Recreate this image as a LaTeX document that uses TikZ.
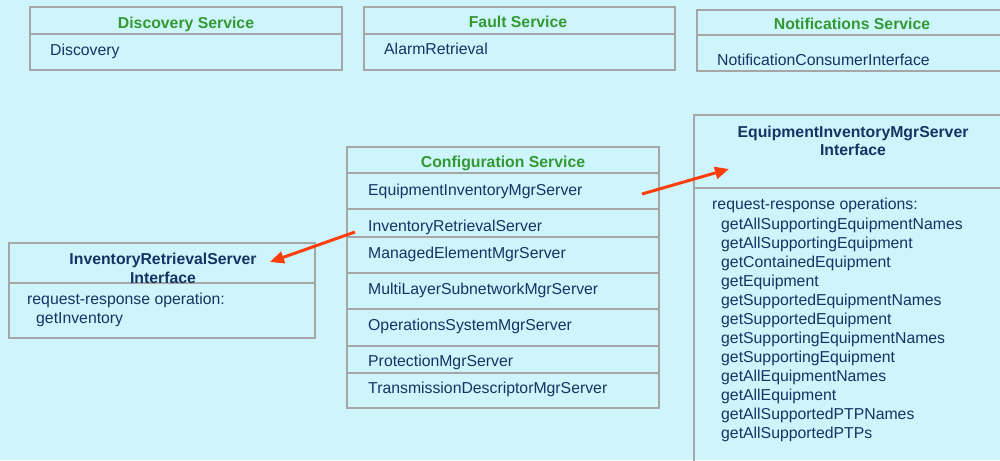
\documentclass[tikz,border=0pt]{standalone}
\usepackage{fontspec}
\setmainfont{Liberation Sans}
\usetikzlibrary{arrows.meta}

\definecolor{bgcyan}{RGB}{206,245,252}
\definecolor{boxgray}{RGB}{166,166,166}
\definecolor{titlegreen}{RGB}{51,153,51}
\definecolor{navy}{RGB}{20,52,100}
\definecolor{arrowred}{RGB}{255,62,12}

\begin{document}
\begin{tikzpicture}[x=1pt, y=-1pt,
    box/.style={draw=boxgray, line width=1.5pt},
    title/.style={font=\fontsize{15.8}{18}\selectfont\bfseries, text=titlegreen, inner sep=0pt, anchor=base},
    head/.style={font=\fontsize{15.8}{18}\selectfont\bfseries, text=navy, inner sep=0pt, anchor=base},
    item/.style={font=\fontsize{15.8}{19}\selectfont, text=navy, inner sep=0pt, anchor=base west},
    flow/.style={-{Triangle[length=14pt,width=12pt]}, line width=3pt, arrowred}]
    \clip (0,0) rectangle (1000,460);
    \fill[bgcyan] (0,0) rectangle (1000,460);

    % Top row: the three other services
    \draw[box] (30,7) rectangle (342,70);
    \draw[box] (30,34) -- (342,34);
    \node[title] (discT) at (186,29) {Discovery Service};
    \node[item] (disc) at (50,56) {Discovery};

    \draw[box] (364,7) rectangle (675,70);
    \draw[box] (364,34) -- (675,34);
    \node[title] (faultT) at (518,28) {Fault Service};
    \node[item] (alarm) at (384,55) {AlarmRetrieval};

    \draw[box] (697,10) rectangle (1010,71);
    \draw[box] (697,35) -- (1010,35);
    \node[title] (notifT) at (852,30) {Notifications Service};
    \node[item] (notif) at (717,66) {NotificationConsumerInterface};

    % Middle: configuration service with its servers
    \draw[box] (347,147) rectangle (659,408);
    \foreach \yy in {173,209,237,273,309,346,373}
        \draw[box] (347,\yy) -- (659,\yy);
    \node[title] (confT) at (503,167) {Configuration Service};
    \node[item] (eims) at (368,195) {EquipmentInventoryMgrServer};
    \node[item] (irs) at (368,231) {InventoryRetrievalServer};
    \node[item] (mems) at (368,258) {ManagedElementMgrServer};
    \node[item] (mlsn) at (368,294) {MultiLayerSubnetworkMgrServer};
    \node[item] (osms) at (368,330) {OperationsSystemMgrServer};
    \node[item] (prot) at (368,366) {ProtectionMgrServer};
    \node[item] (tdms) at (368,393) {TransmissionDescriptorMgrServer};

    % Left: inventory retrieval interface
    \draw[box] (9,243) rectangle (315,338);
    \draw[box] (9,283) -- (315,283);
    \node[head] (irsT) at (163,264) {InventoryRetrievalServer};
    \node[head] (irsTb) at (163,283) {Interface};
    \node[item] (irsOp) at (27,304) {request-response operation:};
    \node[item] (getInv) at (36,323) {getInventory};

    % Right: equipment inventory interface
    \draw[box] (694,115) rectangle (1010,470);
    \draw[box] (694,188) -- (1010,188);
    \node[head] (eimsT) at (853,137) {EquipmentInventoryMgrServer};
    \node[head] (eimsTb) at (853,155) {Interface};
    \node[item] (eimsOp) at (712,209) {request-response operations:};
    \foreach \op [count=\i from 0] in {getAllSupportingEquipmentNames,
        getAllSupportingEquipment, getContainedEquipment, getEquipment,
        getSupportedEquipmentNames, getSupportedEquipment,
        getSupportingEquipmentNames, getSupportingEquipment,
        getAllEquipmentNames, getAllEquipment,
        getAllSupportedPTPNames, getAllSupportedPTPs}
        \node[item] (op\i) at (721,229+19*\i) {\op};

    % Arrows from the servers to their interfaces
    \coordinate (eimsFrom) at (642,194);
    \coordinate (eimsTo) at (729,169);
    \coordinate (irsFrom) at (355,232);
    \coordinate (irsTo) at (270,262);
    \draw[flow] (eimsFrom) -- (eimsTo);
    \draw[flow] (irsFrom) -- (irsTo);
\end{tikzpicture}
\end{document}
